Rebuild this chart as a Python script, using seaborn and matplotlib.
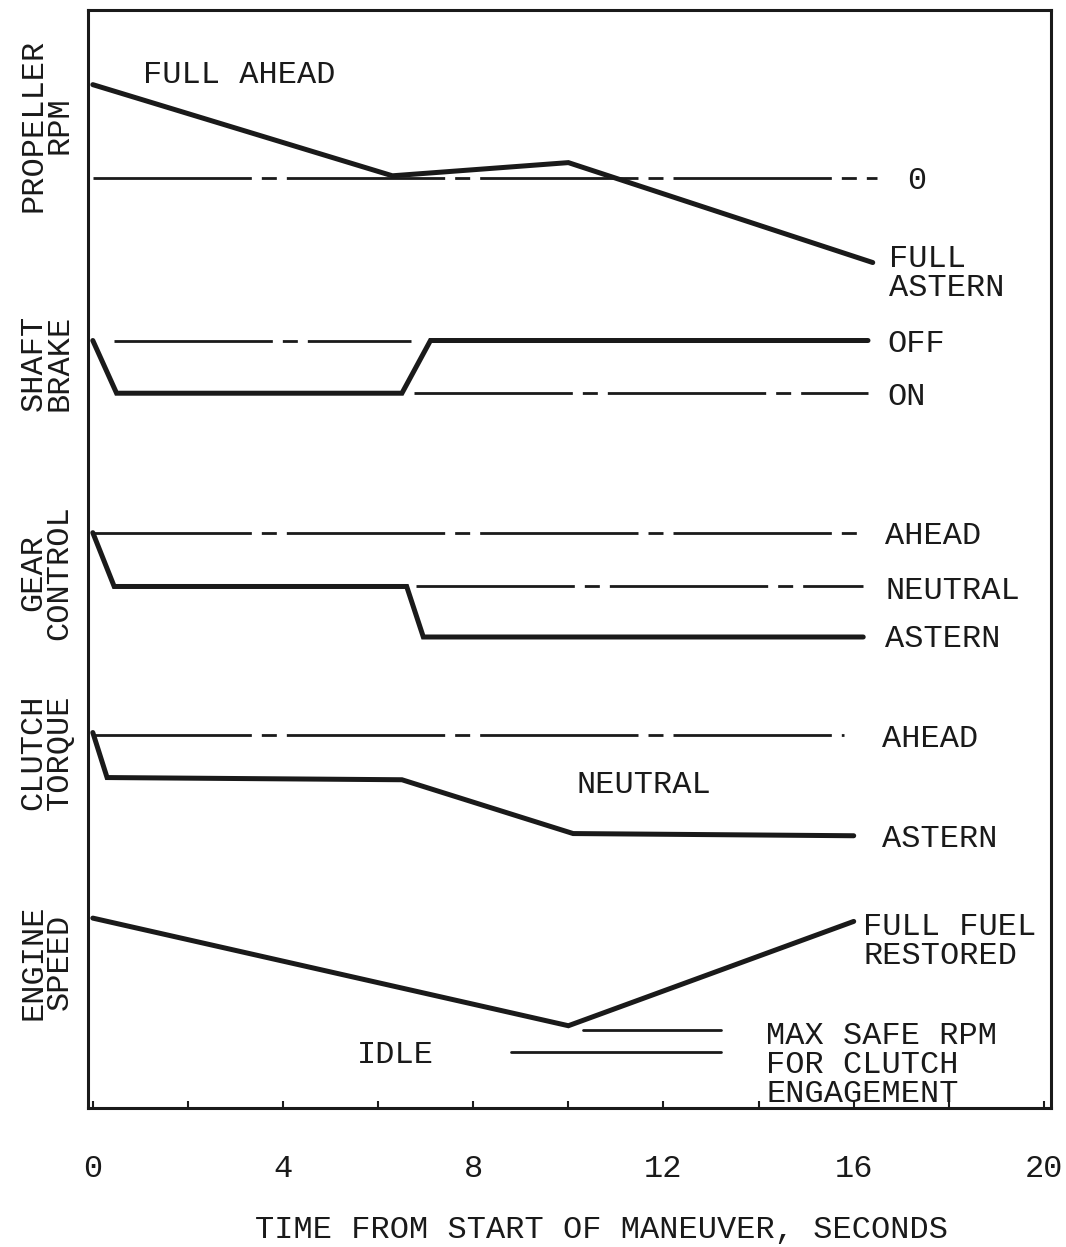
import matplotlib
matplotlib.use("Agg")
import matplotlib.pyplot as plt
import seaborn as sns

# ---------------- data (time in s, signal level in arbitrary chart units) -------------
prop_t = [0.0, 6.3, 10.0, 16.4]
prop_v = [93.2, 84.9, 86.1, 77.0]
prop_zero_t = [0.0, 16.5]
prop_zero_v = [84.7, 84.7]

brake_t = [0.0, 0.5, 6.5, 7.1, 16.3]
brake_v = [69.9, 65.1, 65.1, 69.9, 69.9]
brake_off_t = [0.45, 6.7]
brake_off_v = [69.9, 69.9]
brake_on_t = [6.75, 16.3]
brake_on_v = [65.1, 65.1]

gear_t = [0.0, 0.45, 6.6, 6.95, 16.2]
gear_v = [52.4, 47.5, 47.5, 42.9, 42.9]
gear_ahead_t = [0.0, 16.2]
gear_ahead_v = [52.4, 52.4]
gear_neutral_t = [6.8, 16.2]
gear_neutral_v = [47.5, 47.5]

clutch_t = [0.0, 0.3, 6.5, 10.1, 16.0]
clutch_v = [34.2, 30.1, 29.9, 25.0, 24.8]
clutch_ahead_t = [0.0, 15.8]
clutch_ahead_v = [34.0, 34.0]

engine_t = [0.0, 10.0, 16.0]
engine_v = [17.3, 7.5, 17.0]
maxsafe_t = [10.3, 13.2]
maxsafe_v = [7.1, 7.1]
idle_t = [8.8, 13.2]
idle_v = [5.1, 5.1]

x_ticks = [0, 4, 8, 12, 16, 20]
x_minor = [2, 6, 10, 14, 18]
x_label = "TIME FROM START OF MANEUVER, SECONDS"

panel_labels = ["PROPELLER\nRPM", "SHAFT\nBRAKE", "GEAR\nCONTROL", "CLUTCH\nTORQUE", "ENGINE\nSPEED"]
panel_label_y = [89.5, 67.9, 48.8, 32.4, 13.3]

annotations = [
    ("FULL AHEAD", 1.05, 94.1, "left"),
    ("0", 17.33, 84.4, "center"),
    ("FULL\nASTERN", 16.75, 76.0, "left"),
    ("OFF", 16.7, 69.6, "left"),
    ("ON", 16.7, 64.8, "left"),
    ("AHEAD", 16.66, 52.1, "left"),
    ("NEUTRAL", 16.66, 47.1, "left"),
    ("ASTERN", 16.66, 42.7, "left"),
    ("AHEAD", 16.6, 33.6, "left"),
    ("NEUTRAL", 11.58, 29.4, "center"),
    ("ASTERN", 16.6, 24.5, "left"),
    ("FULL FUEL\nRESTORED", 16.2, 15.2, "left"),
    ("IDLE", 6.37, 4.8, "center"),
    ("MAX SAFE RPM\nFOR CLUTCH\nENGAGEMENT", 14.16, 3.9, "left"),
]

# ---------------- style -------------
sns.set_style("white")
FONT = ["Liberation Mono", "DejaVu Sans Mono"]
plt.rcParams["font.family"] = FONT
INK = "#1a1a1a"
FS = 23

fig = plt.figure(figsize=(10.66, 12.47), dpi=100)
ax = fig.add_axes([0.0826, 0.1114, 0.9034, 0.8806])

thick = dict(color=INK, linewidth=3.6, solid_joinstyle="miter", solid_capstyle="round")
ref = dict(color=INK, linewidth=2.0, linestyle=(0, (57, 3.6, 5.4, 3.6)))
thin = dict(color=INK, linewidth=2.0)


def draw(t, v, **kw):
    sns.lineplot(x=t, y=v, ax=ax, sort=False, estimator=None, legend=False, **kw)


draw(prop_zero_t, prop_zero_v, **ref)
draw(prop_t, prop_v, **thick)

draw(brake_off_t, brake_off_v, **ref)
draw(brake_on_t, brake_on_v, **ref)
draw(brake_t, brake_v, **thick)

draw(gear_ahead_t, gear_ahead_v, **ref)
draw(gear_neutral_t, gear_neutral_v, **ref)
draw(gear_t, gear_v, **thick)

draw(clutch_ahead_t, clutch_ahead_v, **ref)
draw(clutch_t, clutch_v, **thick)

draw(engine_t, engine_v, **thick)
draw(maxsafe_t, maxsafe_v, **thin)
draw(idle_t, idle_v, **thin)

for txt, x, y, ha in annotations:
    ax.text(x, y, txt, ha=ha, va="center", fontsize=FS, color=INK,
            linespacing=0.95, family=FONT)

for txt, y in zip(panel_labels, panel_label_y):
    ax.text(-0.97, y, txt, rotation=90, ha="center", va="center", multialignment="center",
            fontsize=FS, color=INK, linespacing=0.82, family=FONT, clip_on=False)

ax.set_xlim(-0.1, 20.15)
ax.set_ylim(0, 100)
ax.set_yticks([])
ax.set_xticks(x_ticks)
ax.set_xticks(x_minor, minor=True)
ax.set_xticklabels([str(t) for t in x_ticks], fontsize=FS, color=INK, family=FONT)
ax.tick_params(axis="x", which="both", direction="in", length=5, width=1.5, color=INK,
               bottom=True, pad=33)
ax.tick_params(axis="x", which="minor", labelbottom=False)

ax.set_xlabel(x_label, fontsize=FS, color=INK, family=FONT)
ax.xaxis.set_label_coords(0.533, -0.097)

for s in ax.spines.values():
    s.set_visible(True)
    s.set_linewidth(2.2)
    s.set_color(INK)

ax.set_facecolor("white")
fig.patch.set_facecolor("white")
fig.savefig("out.png", dpi=100, facecolor="white")
